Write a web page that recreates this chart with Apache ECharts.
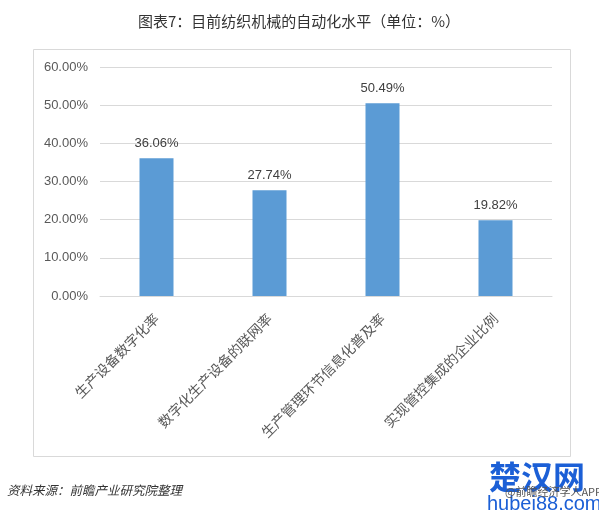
<!DOCTYPE html>
<html>
<head>
<meta charset="utf-8">
<script src="https://cdn.jsdelivr.net/npm/echarts@6/dist/echarts.min.js"></script>
<style>
html,body{margin:0;padding:0;background:#fff;}
#c{width:599px;height:511px;}
</style>
</head>
<body>
<div id="c"></div>
<script>
var categories = ['生产设备数字化率', '数字化生产设备的联网率', '生产管理环节信息化普及率', '实现管控集成的企业比例'];
var values = [36.06, 27.74, 50.49, 19.82];
var yTicks = { min: 0, max: 60, interval: 10 };

var chart = echarts.init(document.getElementById('c'));
chart.setOption({
  animation: false,
  backgroundColor: '#fff',
  title: {
    text: '图表7：目前纺织机械的自动化水平（单位：%）',
    left: 294, top: 9, textAlign: 'center',
    textStyle: { fontSize: 15, fontWeight: 'normal', color: '#333', fontFamily: 'Noto Sans CJK SC' }
  },
  grid: { left: 100, right: 47, top: 67, bottom: 215 },
  xAxis: {
    type: 'category',
    data: categories,
    axisLine: { show: true, lineStyle: { color: '#d9d9d9' } },
    axisTick: { show: false },
    axisLabel: {
      interval: 0, rotate: 45, margin: 20,
      color: '#595959', fontSize: 14, fontFamily: 'Noto Sans CJK SC'
    }
  },
  yAxis: {
    type: 'value',
    min: yTicks.min, max: yTicks.max, interval: yTicks.interval,
    axisLine: { show: false },
    axisTick: { show: false },
    splitLine: { lineStyle: { color: '#d9d9d9' } },
    axisLabel: {
      margin: 12, color: '#595959', fontSize: 13, fontFamily: 'Liberation Sans',
      formatter: function (v) { return v.toFixed(2) + '%'; }
    }
  },
  series: [{
    type: 'bar',
    data: values,
    barWidth: 34,
    itemStyle: { color: '#5B9BD5' },
    label: {
      show: true, position: 'top', distance: 8,
      color: '#404040', fontSize: 13, fontFamily: 'Liberation Sans',
      formatter: function (p) { return p.value.toFixed(2) + '%'; }
    }
  }],
  graphic: [
    { type: 'rect', shape: { x: 33.5, y: 49.5, width: 537, height: 407 },
      style: { fill: 'none', stroke: '#d9d9d9', lineWidth: 1 }, z: -1 },
    { type: 'text', left: 7, top: 484,
      style: { text: '资料来源：前瞻产业研究院整理', fill: '#333', fontSize: 12.5, fontStyle: 'italic', fontFamily: 'Noto Sans CJK SC' } },
    { type: 'text', left: 489, top: 461,
      style: { text: '楚汉网', fill: '#1b5fd6', fontSize: 32, fontWeight: 'bold', fontFamily: 'Noto Sans CJK SC' } },
    { type: 'text', left: 487, top: 494,
      style: { text: 'hubei88.com', fill: '#1b5fd6', fontSize: 20, fontFamily: 'Liberation Sans' } },
    { type: 'text', left: 505, top: 486,
      style: { text: '@前瞻经济学人APP', fill: '#555', fontSize: 11, fontFamily: 'Noto Sans CJK SC' } }
  ]
});
</script>
</body>
</html>
